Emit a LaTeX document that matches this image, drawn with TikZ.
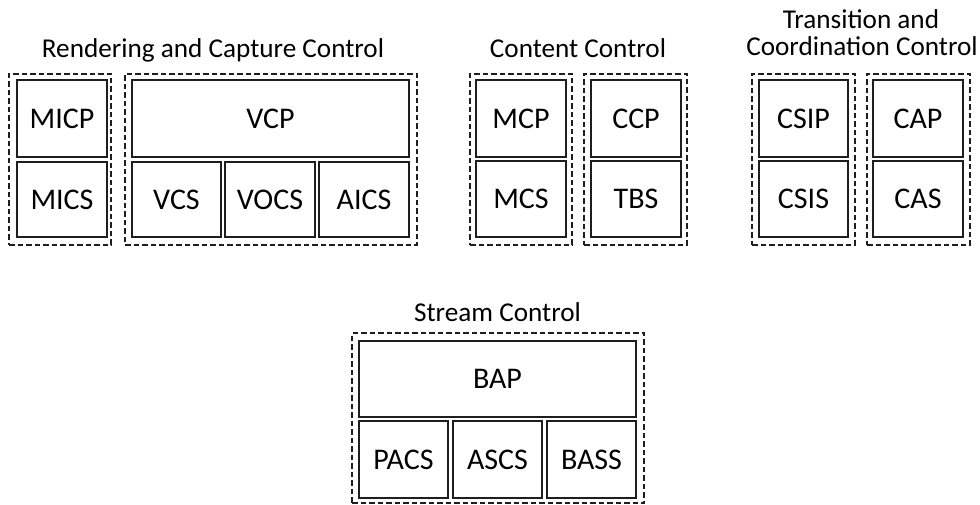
\documentclass[tikz,border=0pt]{standalone}
\usepackage{fontspec}
\setmainfont{Carlito}
\definecolor{edge}{HTML}{1E1E1E}
\tikzset{
  blk/.style={draw=edge, line width=1.5pt, rectangle, inner sep=0pt,
    font=\fontsize{30}{31}\selectfont, text=black},
  grp/.style={draw=edge, line width=1.4pt, dash pattern=on 5.5pt off 3pt,
    rectangle, inner sep=0pt},
  ttl/.style={font=\fontsize{27.2}{28}\selectfont, text=black, inner sep=0pt,
    anchor=base, align=center}
}
% box spanning (x1,y1)-(x2,y2), y measured downwards
\newcommand\blkbox[6][blk]{%
  \node[#1, minimum width={#4-#2}, minimum height={#5-#3}]
    (#6) at ({(#2+#4)/2},{(#3+#5)/2}) {};}
\newcommand\lblbox[6]{%
  \node[blk, minimum width={#4-#2}, minimum height={#5-#3}]
    (#1) at ({(#2+#4)/2},{(#3+#5)/2}) {#6};}
\begin{document}
\begin{tikzpicture}[x=1pt,y=-1pt]
\useasboundingbox (0,0) rectangle (980,505);

% group titles
\node[ttl] (tRC) at (213,58) {Rendering and Capture Control};
\node[ttl] (tCC) at (578,58) {Content Control};
\node[ttl] (tTC1) at (861,29) {Transition and};
\node[ttl] (tTC2) at (862,56) {Coordination Control};
\node[ttl] (tSC) at (497.5,321) {Stream Control};

% dashed groups
\blkbox[grp]{9}{74}{111}{245}{gMIC}
\blkbox[grp]{125}{74}{417}{245}{gV}
\blkbox[grp]{470}{74}{572}{245}{gMC}
\blkbox[grp]{584}{74}{687}{245}{gCC}
\blkbox[grp]{752}{74}{855}{245}{gCSI}
\blkbox[grp]{867}{74}{970}{245}{gCA}
\blkbox[grp]{352}{333}{644}{503}{gBA}

% rendering and capture control
\lblbox{MICP}{17}{80}{107}{157}{MICP}
\lblbox{MICS}{17}{162}{107}{237}{MICS}
\lblbox{VCP}{132}{80}{409}{157}{VCP}
\lblbox{VCS}{132}{162}{221}{237}{VCS}
\lblbox{VOCS}{225}{162}{315}{237}{VOCS}
\lblbox{AICS}{319}{162}{409}{237}{AICS}

% content control
\lblbox{MCP}{476}{80}{566}{157}{MCP}
\lblbox{MCS}{476}{161}{566}{237}{MCS}
\lblbox{CCP}{591}{80}{681}{157}{CCP}
\lblbox{TBS}{591}{161}{681}{237}{TBS}

% transition and coordination control
\lblbox{CSIP}{759}{80}{848}{157}{CSIP}
\lblbox{CSIS}{759}{161}{848}{237}{CSIS}
\lblbox{CAP}{873}{80}{963}{157}{CAP}
\lblbox{CAS}{873}{161}{963}{237}{CAS}

% stream control
\lblbox{BAP}{359}{341}{636}{417}{BAP}
\lblbox{PACS}{359}{421}{448}{498}{PACS}
\lblbox{ASCS}{453}{421}{542}{498}{ASCS}
\lblbox{BASS}{547}{421}{636}{498}{BASS}
\end{tikzpicture}
\end{document}
